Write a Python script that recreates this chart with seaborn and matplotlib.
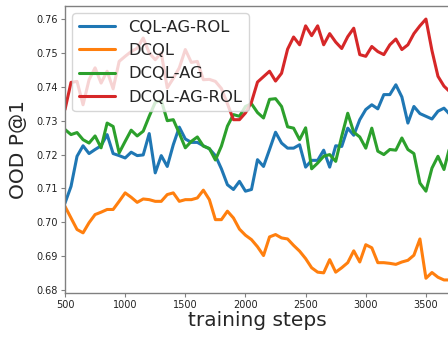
import numpy as np
import pandas as pd
import matplotlib
matplotlib.use("Agg")
import matplotlib.pyplot as plt
import seaborn as sns

steps = list(range(500, 3701, 50))

cql_ag_rol = [0.7057, 0.7106, 0.7195, 0.7226, 0.7203, 0.7215, 0.7226, 0.7259, 0.7203, 0.7197,
              0.7190, 0.7207, 0.7197, 0.7199, 0.7262, 0.7146, 0.7197, 0.7165, 0.7229, 0.7281,
              0.7246, 0.7236, 0.7236, 0.7226, 0.7217, 0.7197, 0.7158, 0.7111, 0.7097, 0.7121,
              0.7092, 0.7097, 0.7185, 0.7165, 0.7215, 0.7266, 0.7234, 0.7219, 0.7219, 0.7229,
              0.7163, 0.7183, 0.7183, 0.7213, 0.7163, 0.7226, 0.7224, 0.7278, 0.7257, 0.7303,
              0.7333, 0.7347, 0.7335, 0.7377, 0.7377, 0.7406, 0.7370, 0.7293, 0.7342, 0.7321,
              0.7313, 0.7305, 0.7328, 0.7337, 0.7318]

dcql = [0.7047, 0.7013, 0.6979, 0.6969, 0.6999, 0.7023, 0.7030, 0.7038, 0.7038, 0.7062,
        0.7087, 0.7074, 0.7059, 0.7069, 0.7067, 0.7062, 0.7062, 0.7082, 0.7087, 0.7062,
        0.7067, 0.7067, 0.7072, 0.7095, 0.7067, 0.7008, 0.7008, 0.7033, 0.7013, 0.6980,
        0.6962, 0.6949, 0.6928, 0.6902, 0.6957, 0.6964, 0.6954, 0.6951, 0.6932, 0.6915,
        0.6893, 0.6866, 0.6853, 0.6851, 0.6890, 0.6853, 0.6866, 0.6881, 0.6916, 0.6883,
        0.6934, 0.6925, 0.6881, 0.6881, 0.6879, 0.6876, 0.6883, 0.6888, 0.6903, 0.6951,
        0.6835, 0.6852, 0.6838, 0.6830, 0.6830]

dcql_ag = [0.7274, 0.7259, 0.7265, 0.7244, 0.7234, 0.7255, 0.7220, 0.7293, 0.7283, 0.7205,
           0.7239, 0.7272, 0.7255, 0.7269, 0.7313, 0.7354, 0.7360, 0.7300, 0.7303, 0.7263,
           0.7220, 0.7239, 0.7252, 0.7225, 0.7218, 0.7184, 0.7225, 0.7284, 0.7318, 0.7313,
           0.7342, 0.7350, 0.7324, 0.7308, 0.7363, 0.7365, 0.7342, 0.7282, 0.7278, 0.7244,
           0.7279, 0.7158, 0.7175, 0.7195, 0.7200, 0.7180, 0.7254, 0.7322, 0.7266, 0.7252,
           0.7219, 0.7278, 0.7210, 0.7200, 0.7215, 0.7213, 0.7249, 0.7215, 0.7203, 0.7116,
           0.7092, 0.7160, 0.7195, 0.7156, 0.7225]

dcql_ag_rol = [0.7333, 0.7413, 0.7416, 0.7347, 0.7421, 0.7456, 0.7411, 0.7446, 0.7394, 0.7475,
               0.7490, 0.7504, 0.7514, 0.7544, 0.7500, 0.7480, 0.7500, 0.7397, 0.7425, 0.7456,
               0.7510, 0.7472, 0.7475, 0.7421, 0.7422, 0.7416, 0.7395, 0.7350, 0.7303, 0.7303,
               0.7323, 0.7355, 0.7414, 0.7430, 0.7446, 0.7417, 0.7440, 0.7511, 0.7547, 0.7524,
               0.7580, 0.7551, 0.7580, 0.7524, 0.7557, 0.7532, 0.7513, 0.7548, 0.7573, 0.7495,
               0.7490, 0.7519, 0.7504, 0.7495, 0.7524, 0.7541, 0.7510, 0.7524, 0.7557, 0.7580,
               0.7600, 0.7507, 0.7431, 0.7402, 0.7385]

methods = ["CQL-AG-ROL", "DCQL", "DCQL-AG", "DCQL-AG-ROL"]
series = [cql_ag_rol, dcql, dcql_ag, dcql_ag_rol]
colors = ["#1f77b4", "#ff7f0e", "#2ca02c", "#d62728"]

df = pd.concat(
    [pd.DataFrame({"step": steps, "value": vals, "method": name})
     for name, vals in zip(methods, series)],
    ignore_index=True,
)

sns.set_style("ticks")
plt.rcParams["font.family"] = ["DejaVu Sans"]

fig = plt.figure(figsize=(4.48, 3.37), dpi=100)
ax = fig.add_axes([65 / 448, 1 - 293 / 337, (450 - 65) / 448, (293 - 6) / 337])

sns.lineplot(data=df, x="step", y="value", hue="method", hue_order=methods,
             palette=colors, linewidth=2.2, ax=ax)

ax.set_xlim(500, 3700)
ax.margins(y=0.05)
ax.set_xticks([500, 1000, 1500, 2000, 2500, 3000, 3500])
ax.set_yticks([0.68, 0.69, 0.70, 0.71, 0.72, 0.73, 0.74, 0.75, 0.76])
ax.set_yticklabels(["0.68", "0.69", "0.70", "0.71", "0.72", "0.73", "0.74", "0.75", "0.76"])
ax.set_xlabel("training steps", fontsize=14.5, labelpad=1)
ax.set_ylabel("OOD P@1", fontsize=14.5, labelpad=6)
ax.tick_params(axis="both", labelsize=7, length=3, width=0.8, color="#808080",
               labelcolor="#222222", pad=2)
for s in ax.spines.values():
    s.set_color("#808080")
    s.set_linewidth(1.0)

handles, labels = ax.get_legend_handles_labels()
ax.legend(handles, labels, loc="upper left", fontsize=11.8, framealpha=0.8,
          handlelength=2.2, borderaxespad=0.45)

fig.savefig("out.png", dpi=100)
